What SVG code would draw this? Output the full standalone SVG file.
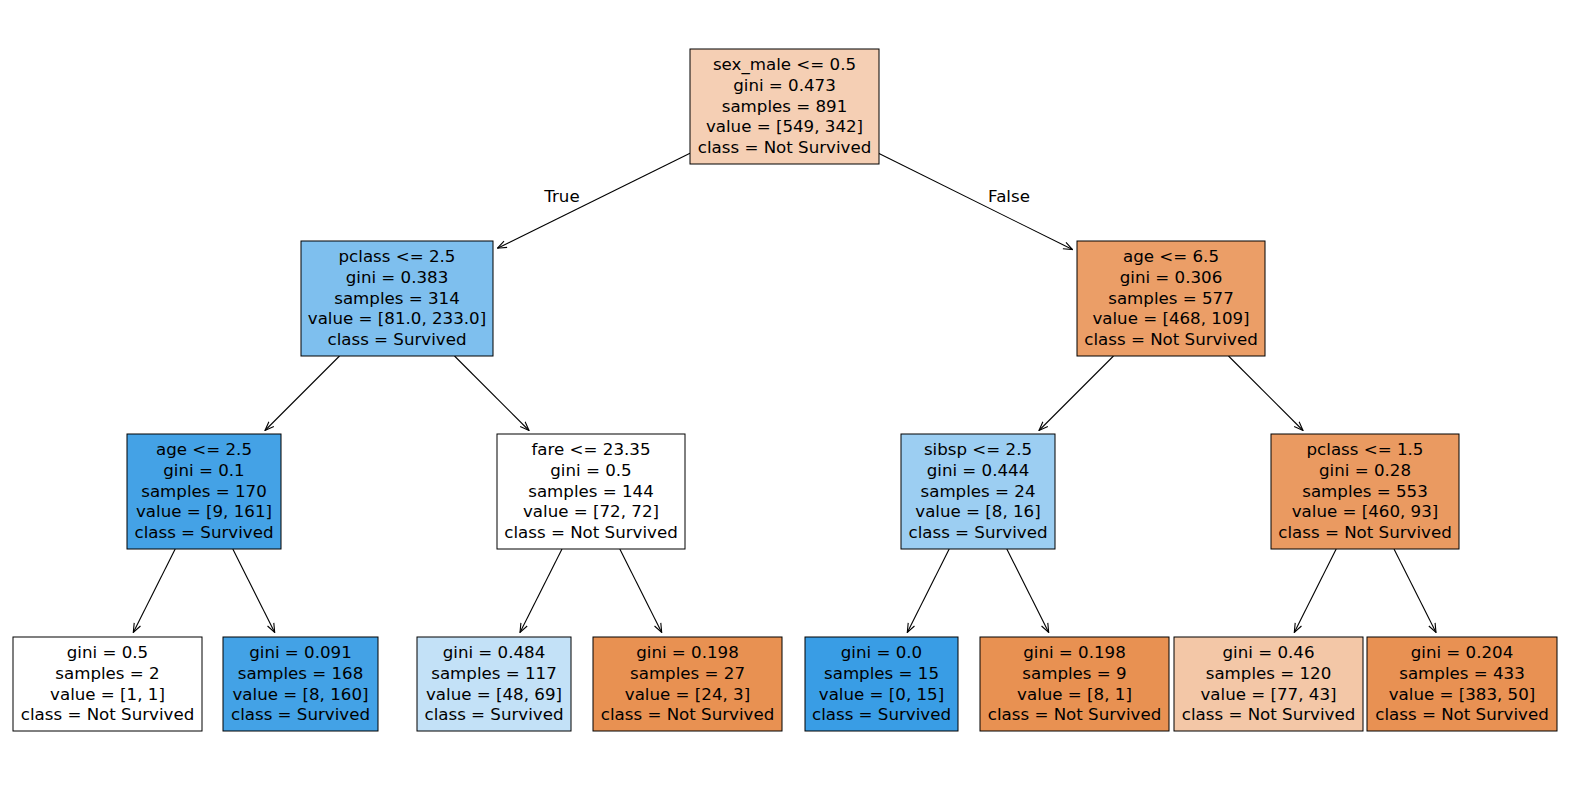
<svg xmlns="http://www.w3.org/2000/svg" width="1570" height="790" viewBox="0 0 1570 790">
<style>
.n rect{stroke:#000;stroke-width:1}
text{font-family:"DejaVu Sans",sans-serif;font-size:16.67px;fill:#000;text-anchor:middle}
.e line{stroke:#000;stroke-width:1.1;fill:none;marker-end:url(#ah)}
</style>
<defs>
<marker id="ah" viewBox="0 0 10 10" refX="9.5" refY="5" markerWidth="10" markerHeight="10" markerUnits="userSpaceOnUse" orient="auto">
<path d="M0.5,1.5 L9.5,5 L0.5,8.5" fill="none" stroke="#000" stroke-width="1.1"/>
</marker>
</defs>
<rect width="1570" height="790" fill="#fff"/>
<g id="edges" class="e">
<line x1="690" y1="153.3" x2="497.5" y2="248.2"/>
<line x1="879" y1="153.4" x2="1072.5" y2="249.6"/>
<line x1="339.5" y1="356" x2="265" y2="430.5"/>
<line x1="454.5" y1="356" x2="529" y2="430.5"/>
<line x1="1113.5" y1="356" x2="1039" y2="430.5"/>
<line x1="1228.5" y1="356" x2="1303" y2="430.5"/>
<line x1="175.2" y1="549" x2="133.3" y2="632.5"/>
<line x1="232.8" y1="549" x2="274.7" y2="632.5"/>
<line x1="562" y1="549" x2="520" y2="632.5"/>
<line x1="619.8" y1="549" x2="661.7" y2="632.5"/>
<line x1="949.2" y1="549" x2="907.3" y2="632.5"/>
<line x1="1006.8" y1="549" x2="1048.7" y2="632.5"/>
<line x1="1336.2" y1="549" x2="1294.3" y2="632.5"/>
<line x1="1394" y1="549" x2="1436" y2="632.5"/>
<text x="562" y="202">True</text>
<text x="1009" y="202">False</text>
</g>
<g id="n0" class="n"><rect x="690" y="49" width="189" height="115" fill="#f5cfb4"/>
<text x="784.5" y="70">sex_male &lt;= 0.5</text><text x="784.5" y="90.8">gini = 0.473</text><text x="784.5" y="111.6">samples = 891</text><text x="784.5" y="132.4">value = [549, 342]</text><text x="784.5" y="153.2">class = Not Survived</text></g>
<g id="n1" class="n"><rect x="301" y="241" width="192" height="115" fill="#7ebfee"/>
<text x="397" y="262">pclass &lt;= 2.5</text><text x="397" y="282.8">gini = 0.383</text><text x="397" y="303.6">samples = 314</text><text x="397" y="324.4">value = [81.0, 233.0]</text><text x="397" y="345.2">class = Survived</text></g>
<g id="n8" class="n"><rect x="1077" y="241" width="188" height="115" fill="#eb9e67"/>
<text x="1171" y="262">age &lt;= 6.5</text><text x="1171" y="282.8">gini = 0.306</text><text x="1171" y="303.6">samples = 577</text><text x="1171" y="324.4">value = [468, 109]</text><text x="1171" y="345.2">class = Not Survived</text></g>
<g id="n2" class="n"><rect x="127" y="434" width="154" height="115" fill="#44a2e6"/>
<text x="204" y="455">age &lt;= 2.5</text><text x="204" y="475.8">gini = 0.1</text><text x="204" y="496.6">samples = 170</text><text x="204" y="517.4">value = [9, 161]</text><text x="204" y="538.2">class = Survived</text></g>
<g id="n5" class="n"><rect x="497" y="434" width="188" height="115" fill="#ffffff"/>
<text x="591" y="455">fare &lt;= 23.35</text><text x="591" y="475.8">gini = 0.5</text><text x="591" y="496.6">samples = 144</text><text x="591" y="517.4">value = [72, 72]</text><text x="591" y="538.2">class = Not Survived</text></g>
<g id="n9" class="n"><rect x="901" y="434" width="154" height="115" fill="#9ccef2"/>
<text x="978" y="455">sibsp &lt;= 2.5</text><text x="978" y="475.8">gini = 0.444</text><text x="978" y="496.6">samples = 24</text><text x="978" y="517.4">value = [8, 16]</text><text x="978" y="538.2">class = Survived</text></g>
<g id="n12" class="n"><rect x="1271" y="434" width="188" height="115" fill="#ea9a61"/>
<text x="1365" y="455">pclass &lt;= 1.5</text><text x="1365" y="475.8">gini = 0.28</text><text x="1365" y="496.6">samples = 553</text><text x="1365" y="517.4">value = [460, 93]</text><text x="1365" y="538.2">class = Not Survived</text></g>
<g id="n3" class="n"><rect x="13" y="637" width="189" height="94" fill="#ffffff"/>
<text x="107.5" y="658">gini = 0.5</text><text x="107.5" y="678.8">samples = 2</text><text x="107.5" y="699.6">value = [1, 1]</text><text x="107.5" y="720.4">class = Not Survived</text></g>
<g id="n4" class="n"><rect x="223" y="637" width="155" height="94" fill="#43a2e6"/>
<text x="300.5" y="658">gini = 0.091</text><text x="300.5" y="678.8">samples = 168</text><text x="300.5" y="699.6">value = [8, 160]</text><text x="300.5" y="720.4">class = Survived</text></g>
<g id="n6" class="n"><rect x="417" y="637" width="154" height="94" fill="#c3e1f7"/>
<text x="494" y="658">gini = 0.484</text><text x="494" y="678.8">samples = 117</text><text x="494" y="699.6">value = [48, 69]</text><text x="494" y="720.4">class = Survived</text></g>
<g id="n7" class="n"><rect x="593" y="637" width="189" height="94" fill="#e89152"/>
<text x="687.5" y="658">gini = 0.198</text><text x="687.5" y="678.8">samples = 27</text><text x="687.5" y="699.6">value = [24, 3]</text><text x="687.5" y="720.4">class = Not Survived</text></g>
<g id="n10" class="n"><rect x="805" y="637" width="153" height="94" fill="#399de5"/>
<text x="881.5" y="658">gini = 0.0</text><text x="881.5" y="678.8">samples = 15</text><text x="881.5" y="699.6">value = [0, 15]</text><text x="881.5" y="720.4">class = Survived</text></g>
<g id="n11" class="n"><rect x="980" y="637" width="189" height="94" fill="#e89152"/>
<text x="1074.5" y="658">gini = 0.198</text><text x="1074.5" y="678.8">samples = 9</text><text x="1074.5" y="699.6">value = [8, 1]</text><text x="1074.5" y="720.4">class = Not Survived</text></g>
<g id="n13" class="n"><rect x="1174" y="637" width="189" height="94" fill="#f3c7a7"/>
<text x="1268.5" y="658">gini = 0.46</text><text x="1268.5" y="678.8">samples = 120</text><text x="1268.5" y="699.6">value = [77, 43]</text><text x="1268.5" y="720.4">class = Not Survived</text></g>
<g id="n14" class="n"><rect x="1367" y="637" width="190" height="94" fill="#e89153"/>
<text x="1462" y="658">gini = 0.204</text><text x="1462" y="678.8">samples = 433</text><text x="1462" y="699.6">value = [383, 50]</text><text x="1462" y="720.4">class = Not Survived</text></g>
</svg>
